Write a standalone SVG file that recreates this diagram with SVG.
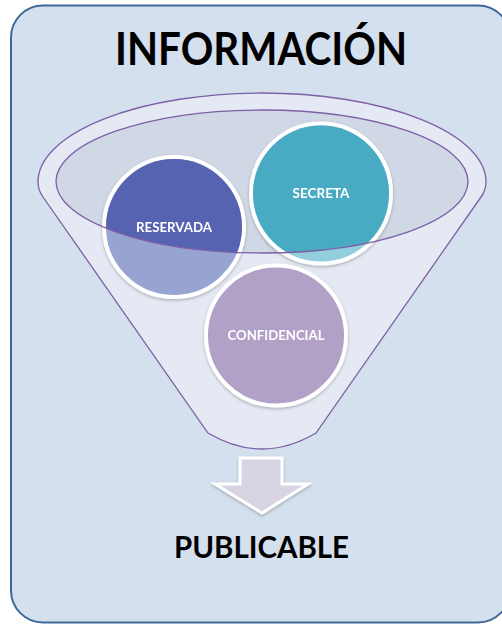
<svg xmlns="http://www.w3.org/2000/svg" width="502" height="625" viewBox="0 0 502 625">
<style>
.title{font-family:Lato,"Liberation Sans",Arial,sans-serif;font-weight:bold;fill:#000;text-anchor:middle}
.lbl{font-family:Lato,"Liberation Sans",Arial,sans-serif;font-weight:bold;font-size:13px;fill:#fff;text-anchor:middle}
.ring{stroke:#fff;stroke-width:4}
.fun{stroke:#7d5fa6;stroke-width:1.3}
</style>
<defs>
<clipPath id="inner"><ellipse cx="262" cy="181.5" rx="206" ry="71.5"/></clipPath>
<filter id="sh" x="-20%" y="-20%" width="140%" height="140%"><feDropShadow dx="0" dy="1.5" stdDeviation="1.5" flood-color="#000" flood-opacity="0.25"/></filter>
</defs>
<g id="background">
<rect x="11" y="5.5" width="499" height="617" rx="32" ry="32" fill="#d5e0ee" stroke="#3d6899" stroke-width="2"/>
</g>
<g id="title"><text class="title" x="261" y="65" font-size="45" textLength="292" lengthAdjust="spacingAndGlyphs">INFORMACIÓN</text></g>
<g id="funnel">
<path class="fun" fill="#e4e9f3" d="M38,182 A224,89 0 0 1 486,182 Q486,190 481,197 L316,433 Q262,465 208,433 L43,197 Q38,190 38,182 Z"/>
<ellipse cx="262" cy="181.5" rx="206" ry="71.5" fill="#d0d7e5"/>
</g>
<g id="reservada" filter="url(#sh)">
<circle class="ring" cx="174" cy="227" r="70" fill="#97a3d1"/>
<circle cx="174" cy="227" r="68" fill="#5764b0" clip-path="url(#inner)"/>
<text class="lbl" x="174" y="232" textLength="76" lengthAdjust="spacingAndGlyphs">RESERVADA</text>
</g>
<g id="secreta" filter="url(#sh)">
<circle class="ring" cx="321" cy="193.5" r="70" fill="#93cedd"/>
<circle cx="321" cy="193.5" r="68" fill="#4aaac4" clip-path="url(#inner)"/>
<text class="lbl" x="321" y="198" textLength="57" lengthAdjust="spacingAndGlyphs">SECRETA</text>
</g>
<g id="confidencial" filter="url(#sh)">
<circle class="ring" cx="276" cy="335.5" r="70" fill="#b1a1c7"/>
<text class="lbl" x="276" y="340" textLength="97" lengthAdjust="spacingAndGlyphs">CONFIDENCIAL</text>
</g>
<g id="funnel-rim">
<ellipse class="fun" cx="262" cy="181.5" rx="206" ry="71.5" fill="none"/>
</g>
<g id="connectors">
<path filter="url(#sh)" d="M240,458 L282,458 L282,484 L308,484 L262,513 L215,484 L240,484 Z" fill="#d8d4e4" stroke="#fff" stroke-width="3" stroke-linejoin="miter"/>
</g>
<g id="publicable"><text class="title" x="261.5" y="558" font-size="30" textLength="175" lengthAdjust="spacingAndGlyphs">PUBLICABLE</text></g>
</svg>
